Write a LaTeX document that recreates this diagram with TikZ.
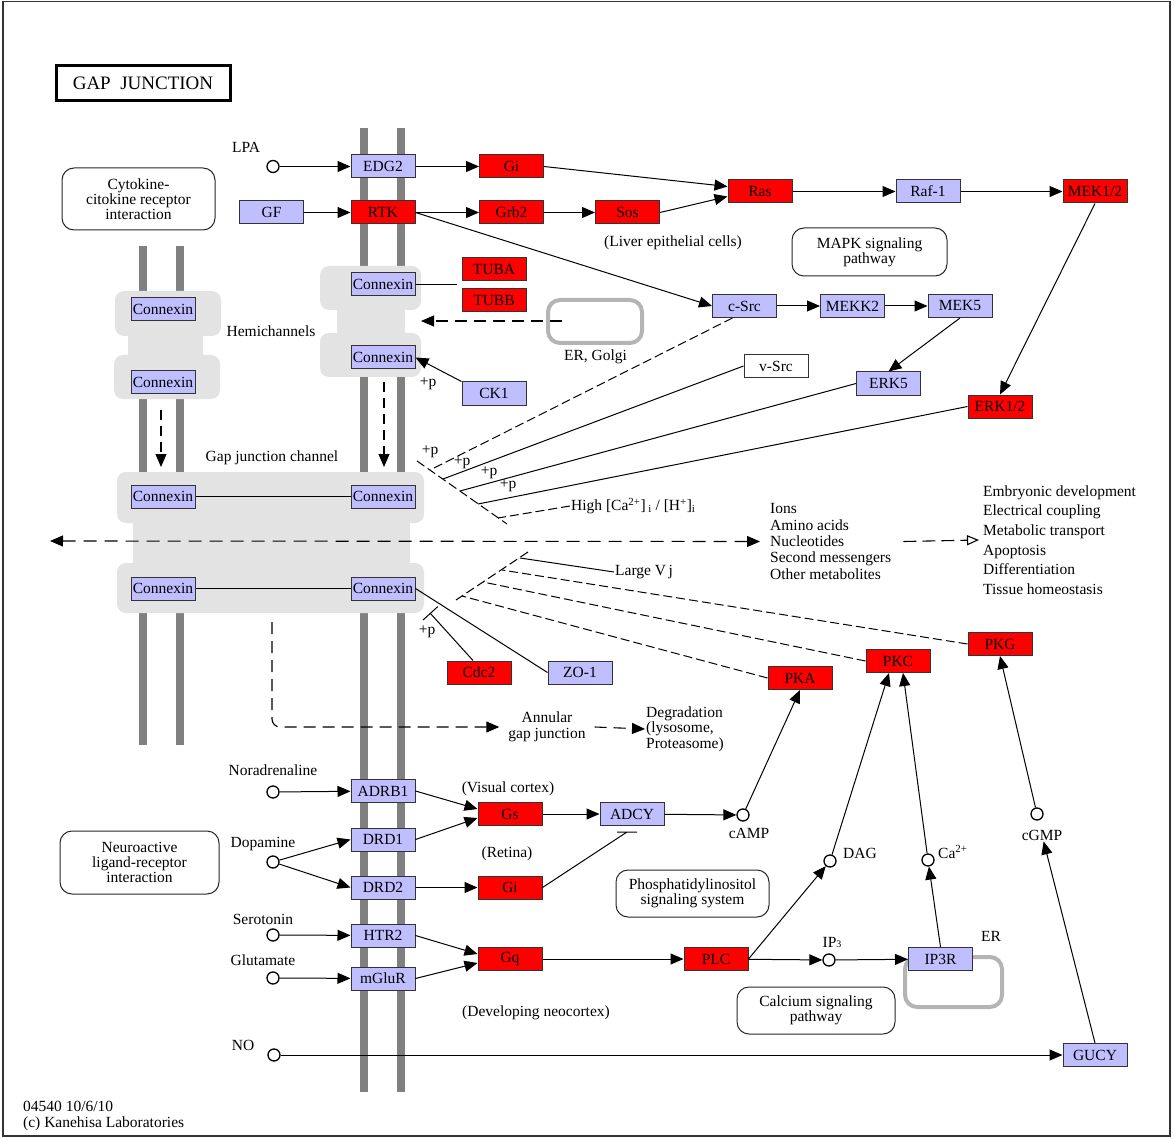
\documentclass[tikz,border=0pt]{standalone}
\usepackage{fontspec}
\setmainfont{Liberation Serif}
\usepackage{xcolor}
\usepackage{tikz}
\usetikzlibrary{arrows.meta, positioning, calc}

\definecolor{geneblue}{HTML}{BFBFFF}
\definecolor{genered}{HTML}{FF0000}
\definecolor{blobgray}{HTML}{E3E3E3}
\definecolor{membgray}{HTML}{808080}
\definecolor{orggray}{HTML}{B4B4B4}

\begin{document}
\begin{tikzpicture}[
    x=1pt, y=-1pt,
    % Global styles
    font=\fontsize{15.5}{15.5}\selectfont,
    >={Triangle[length=13pt, width=11pt]},
    % Box styles
    genebox/.style={
      rectangle, draw=black!80, fill=#1, line width=1pt,
      minimum width=64pt, minimum height=23pt, inner sep=0pt
    },
    genebox/.default=geneblue,
    mapbox/.style={
      rectangle, rounded corners=12pt, draw=black!85, line width=1pt,
      align=center, inner sep=0pt, font=\fontsize{15.5}{15}\selectfont
    },
    titlebox/.style={
      rectangle, draw=black, line width=3pt, minimum width=174pt,
      minimum height=35pt, font=\fontsize{19}{19}\selectfont
    },
    cpd/.style={circle, draw=black, fill=white, line width=1.3pt, minimum size=12pt, inner sep=0pt},
    txt/.style={inner sep=1pt},
    blob/.style={fill=blobgray, rounded corners=9pt},
    membrane/.style={line width=8pt, color=membgray},
    organelle/.style={draw=orggray, line width=4pt, rounded corners=12pt},
    conn/.style={line width=1pt},
    arr/.style={->, line width=1pt},
    dline/.style={line width=1pt, dash pattern=on 9pt off 4pt},
    darr/.style={->, line width=1.1pt, dash pattern=on 12pt off 7pt},
  ]

  \useasboundingbox (0,0) rectangle (1175,1139);
  \draw[line width=1.5pt, black!80] (3,1.5) rectangle (1170,1136);

  % ====================================================================
  % MEMBRANES AND CHANNELS
  % ====================================================================
  \foreach \mx in {364,401} \draw[membrane] (\mx,128) -- (\mx,1092);
  \foreach \mx in {143,180} \draw[membrane] (\mx,246) -- (\mx,745);

  % hemichannels
  \fill[blob] (115,291) rectangle (221,336);
  \fill[blobgray] (128,330) rectangle (203,361);
  \fill[blob] (114,355) rectangle (220,399);
  \fill[blob] (320,266) rectangle (421,310);
  \fill[blobgray] (337,304) rectangle (405,339);
  \fill[blob] (320,333) rectangle (421,377);

  % gap junction channel
  \fill[blob] (117,472) rectangle (424,523);
  \fill[blobgray] (133,515) rectangle (410,571);
  \fill[blob] (117,563) rectangle (424,613);

  % organelles
  \draw[organelle] (548,300) rectangle (642,343);
  \draw[organelle] (905,957) rectangle (1002,1007);

  % ====================================================================
  % TITLE AND MAP LINKS
  % ====================================================================
  \node[titlebox] (title) at (143,83) {GAP\ \ JUNCTION};

  \node[mapbox, minimum width=153pt, minimum height=62pt] (cytokine) at (138.5,199)
    {Cytokine-\\citokine receptor\\interaction};
  \node[mapbox, minimum width=155pt, minimum height=48pt] (mapk) at (869.5,252)
    {MAPK signaling\\pathway};
  \node[mapbox, minimum width=159pt, minimum height=63pt] (neuro) at (139.5,862.5)
    {Neuroactive\\ligand-receptor\\interaction};
  \node[mapbox, minimum width=153pt, minimum height=47pt] (phosphat) at (692.5,893.5)
    {Phosphatidylinositol\\signaling system};
  \node[mapbox, minimum width=158pt, minimum height=47pt] (calcium) at (816,1010.5)
    {Calcium signaling\\pathway};

  % ====================================================================
  % CONNEXINS
  % ====================================================================
  \node[genebox] (cxL1) at (163,309) {Connexin};
  \node[genebox] (cxL2) at (163,382) {Connexin};
  \node[genebox] (cxR1) at (383,284.5) {Connexin};
  \node[genebox] (cxR2) at (383,357.5) {Connexin};
  \node[genebox] (gjL1) at (163,496.5) {Connexin};
  \node[genebox] (gjR1) at (383,496.5) {Connexin};
  \node[genebox] (gjL2) at (163,588.5) {Connexin};
  \node[genebox] (gjR2) at (383,588.5) {Connexin};

  \node[txt] (hemi) at (271,331) {Hemichannels};
  \node[txt] (gjc) at (272,458) {Gap junction channel};

  % ====================================================================
  % UPPER SIGNALLING
  % ====================================================================
  \node[txt] (lLPA) at (246,147) {LPA};
  \node[cpd] (cLPA) at (273,166.5) {};
  \node[genebox] (EDG2) at (383,166.5) {EDG2};
  \node[genebox] (GF) at (271.5,212.5) {GF};
  \node[genebox=genered] (RTK) at (383,212.5) {RTK};
  \node[genebox=genered] (Gi1) at (511.5,166.5) {Gi};
  \node[genebox=genered] (Grb2) at (511.5,212.5) {Grb2};
  \node[genebox=genered] (Sos) at (627.5,212.5) {Sos};
  \node[genebox=genered] (Ras) at (760,191.5) {Ras};
  \node[genebox] (Raf1) at (928,191.5) {Raf-1};
  \node[genebox=genered] (MEK12) at (1095,191.5) {MEK1/2};
  \node[txt] (liver) at (673,243) {(Liver epithelial cells)};

  \node[genebox=genered] (TUBA) at (494,269) {TUBA};
  \node[genebox=genered, below=7.5pt of TUBA] (TUBB) {TUBB};
  \node[txt] (ergolgi) at (595.5,357) {ER, Golgi};

  \node[genebox] (cSrc) at (744.5,306) {c-Src};
  \node[genebox] (MEKK2) at (852.5,306) {MEKK2};
  \node[genebox] (MEK5) at (960,306) {MEK5};
  \node[genebox] (ERK5) at (888.5,383.5) {ERK5};
  \node[genebox=genered] (ERK12) at (1000,406.5) {ERK1/2};
  \node[genebox] (CK1) at (494,393.5) {CK1};
  \node[genebox=white] (vSrc) at (776,366) {v-Src};
  \node[txt] (pCK1) at (428,384) {+p};

  % free ends
  \coordinate (tubend) at (457,284.5);
  \coordinate (golgiout) at (562,321);
  \coordinate (hemiR) at (421,321);

  % converging regulators (upper)
  \coordinate (pubar1) at (417,461);
  \coordinate (pubar2) at (507,524);
  \coordinate (pu1) at (430,470);
  \coordinate (pu2) at (443,479);
  \coordinate (pu3) at (460,491);
  \coordinate (pu4) at (478,504);
  \coordinate (pu5) at (498,518);
  \node[txt] (p1) at (430,452) {+p};
  \node[txt] (p2) at (462,463) {+p};
  \node[txt] (p3) at (489,473) {+p};
  \node[txt] (p4) at (508,486) {+p};
  \node[txt, anchor=west] (highca) at (570,506)
    {High [Ca\textsuperscript{2+}]\,\textsubscript{i} / [H\textsuperscript{+}]\textsubscript{i}};

  % ====================================================================
  % TRANSFER THROUGH CHANNEL
  % ====================================================================
  \coordinate (gjout) at (50,541);
  \coordinate (dnLs) at (161,410);
  \coordinate (dnLe) at (161,467);
  \coordinate (dnRs) at (384,382);
  \coordinate (dnRe) at (384,467);
  \node[txt, anchor=west, align=left, font=\fontsize{15.5}{16.3}\selectfont] (mols) at (769,541.5)
    {Ions\\Amino acids\\Nucleotides\\Second messengers\\Other metabolites};
  \node[txt, anchor=west, align=left, font=\fontsize{15.5}{19.6}\selectfont] (effects) at (982,540)
    {Embryonic development\\Electrical coupling\\Metabolic transport\\Apoptosis\\Differentiation\\Tissue homeostasis};

  % ====================================================================
  % LOWER REGULATORS
  % ====================================================================
  \coordinate (plbar1) at (528,552);
  \coordinate (plbar2) at (456,600);
  \coordinate (pl1) at (520,558);
  \coordinate (pl2) at (502,570);
  \coordinate (pl3) at (483,582);
  \coordinate (pl4) at (462,596);
  \node[txt, anchor=west] (largevj) at (614,572) {Large V\,j};

  \node[genebox=genered] (Cdc2) at (479,672.5) {Cdc2};
  \node[genebox] (ZO1) at (580,672.5) {ZO-1};
  \node[txt] (pCdc2) at (427,632) {+p};
  \coordinate (cdc2bar) at (430,613);

  \node[genebox=genered] (PKA) at (800,678) {PKA};
  \node[genebox=genered] (PKC) at (898,661) {PKC};
  \node[genebox=genered] (PKG) at (1000,644) {PKG};

  \coordinate (annstart) at (272,622);
  \node[txt, inner xsep=9pt, align=center] (annular) at (547,727) {Annular\\gap junction};
  \node[txt, anchor=west, align=left] (degr) at (645,729) {Degradation\\(lysosome,\\Proteasome)};

  % ====================================================================
  % RECEPTORS
  % ====================================================================
  \node[txt] (lNor) at (273,770) {Noradrenaline};
  \node[cpd] (cNor) at (273,792) {};
  \node[txt] (lDop) at (263,844) {Dopamine};
  \node[cpd] (cDop) at (273,862) {};
  \node[txt] (lSer) at (263,919) {Serotonin};
  \node[cpd] (cSer) at (273,935) {};
  \node[txt] (lGlu) at (263,960) {Glutamate};
  \node[cpd] (cGlu) at (273,978) {};
  \node[txt] (lNO) at (243,1045) {NO};
  \node[cpd] (cNO) at (274,1055) {};

  \node[genebox] (ADRB1) at (383,791) {ADRB1};
  \node[genebox] (DRD1) at (383,839.5) {DRD1};
  \node[genebox] (DRD2) at (383,887.5) {DRD2};
  \node[genebox] (HTR2) at (383,935.5) {HTR2};
  \node[genebox] (mGluR) at (383,978.5) {mGluR};

  \node[genebox=genered] (Gs) at (510,814) {Gs};
  \node[genebox] (ADCY) at (632,814) {ADCY};
  \node[genebox=genered] (Gi2) at (510,887.5) {Gi};
  \node[genebox=genered] (Gq) at (510,959) {Gq};
  \node[genebox=genered] (PLC) at (716,959) {PLC};
  \node[genebox] (IP3R) at (940.5,959) {IP3R};
  \node[genebox] (GUCY) at (1095,1055) {GUCY};
  \coordinate (adcyinh) at (627,832);

  \node[txt] (visual) at (508,789) {(Visual cortex)};
  \node[txt] (retina) at (507,854) {(Retina)};
  \node[txt] (neocortex) at (536,1013) {(Developing neocortex)};

  \node[cpd] (cAMP) at (743,815) {};
  \node[txt] (lcAMP) at (749,833) {cAMP};
  \node[cpd] (cDAG) at (830,861) {};
  \node[txt, anchor=west] (lDAG) at (842,853) {DAG};
  \node[cpd] (cCa) at (928,860) {};
  \node[txt, anchor=west] (lCa) at (937,852) {Ca\textsuperscript{2+}};
  \node[cpd] (cGMP) at (1037,814) {};
  \node[txt] (lcGMP) at (1042,835) {cGMP};
  \node[cpd] (cIP3) at (829,960) {};
  \node[txt] (lIP3) at (832,942) {IP{\fontsize{10}{10}\selectfont 3}};
  \node[txt] (lER) at (991,936) {ER};

  \node[txt, anchor=west, align=left, font=\fontsize{15.5}{16}\selectfont] (credit) at (22,1116)
    {04540 10/6/10\\(c) Kanehisa Laboratories};

  % ------- Arrows -------
  \draw[arr] (cLPA) -- (EDG2);
  \draw[arr] (GF) -- (RTK);
  \draw[arr] (EDG2) -- (Gi1);
  \draw[arr] (RTK) -- (Grb2);
  \draw[arr] (Grb2) -- (Sos);
  \draw[arr] (Gi1.east) -- ($(Ras.west)+(0,-5)$);
  \draw[arr] (Sos.east) -- ($(Ras.west)+(0,5)$);
  \draw[arr] (Ras) -- (Raf1);
  \draw[arr] (Raf1) -- (MEK12);
  \draw[arr] (MEK12.south) -- (ERK12.north);
  \draw[arr] (RTK.east) -- (cSrc.west);
  \draw[arr] (cSrc) -- (MEKK2);
  \draw[arr] (MEKK2) -- (MEK5);
  \draw[arr] (MEK5.south) -- (ERK5.north);
  \draw[arr] (CK1.north west) -- (cxR2.east);
  \draw[conn] (cxR1.east) -- (tubend);
  \draw[darr] (golgiout) -- (hemiR);

  % channel
  \draw[conn] (gjL1) -- (gjR1);
  \draw[conn] (gjL2) -- (gjR2);
  \draw[darr, dash pattern=on 10pt off 6pt] (dnLs) -- (dnLe);
  \draw[darr, dash pattern=on 10pt off 6pt] (dnRs) -- (dnRe);
  \draw[darr, <->, dash pattern=on 13pt off 8pt] (gjout) -- ([xshift=-9pt]mols.west);
  \draw[darr, dash pattern=on 13pt off 6pt, -{Triangle[open, length=12pt, width=10pt]}]
    ([xshift=11pt]mols.east) -- ([xshift=-3pt]effects.west);

  % upper converge
  \draw[dline] (pubar1) -- (pubar2);
  \draw[dline] ($(cSrc.south)+(-12,0)$) -- (pu1);
  \draw[conn] (vSrc.west) -- (pu2);
  \draw[conn] (ERK5.west) -- (pu3);
  \draw[conn] (ERK12.west) -- (pu4);
  \draw[dline] (highca.west) -- (pu5);

  % lower converge
  \draw[dline] (plbar1) -- (plbar2);
  \draw[conn] (largevj.west) -- (pl1);
  \draw[dline] (PKG.west) -- (pl2);
  \draw[dline] (PKC.west) -- (pl3);
  \draw[dline] (PKA.west) -- (pl4);
  \draw[conn, -{Bar[width=20pt]}] ($(Cdc2.north)+(-6,0)$) -- (cdc2bar);
  \draw[conn] (gjR2.east) -- (ZO1.west);

  % internalisation
  \draw[darr, rounded corners=8pt] (annstart) |- (annular.west);
  \draw[darr] (annular.east) -- (degr.west);

  % receptors
  \draw[arr] (cNor) -- (ADRB1);
  \draw[arr] (cDop) -- (DRD1.west);
  \draw[arr] (cDop) -- (DRD2.west);
  \draw[arr] (cSer) -- (HTR2);
  \draw[arr] (cGlu) -- (mGluR);
  \draw[arr] (cNO) -- (GUCY);
  \draw[arr] (ADRB1.east) -- ($(Gs.west)+(0,-5)$);
  \draw[arr] (DRD1.east) -- ($(Gs.west)+(0,4)$);
  \draw[arr] (DRD2) -- (Gi2);
  \draw[arr] (HTR2.east) -- ($(Gq.west)+(0,-5)$);
  \draw[arr] (mGluR.east) -- ($(Gq.west)+(0,4)$);

  % second messengers
  \draw[arr] (Gs) -- (ADCY);
  \draw[arr] (ADCY) -- (cAMP);
  \draw[conn] (Gi2.east) -- (adcyinh) ++(-10,0) -- ++(20,0);
  \draw[arr] (Gq) -- (PLC);
  \draw[arr] (PLC) -- (cIP3);
  \draw[arr] (cIP3) -- (IP3R);
  \draw[arr] (PLC.east) -- (cDAG);
  \draw[arr] (IP3R.north) -- (cCa);
  \draw[arr] (cDAG) -- ($(PKC.south)+(-9,0)$);
  \draw[arr] (cCa) -- ($(PKC.south)+(5,0)$);
  \draw[arr] (cAMP) -- (PKA.south);
  \draw[arr] (cGMP) -- (PKG.south);
  \draw[arr] (GUCY.north) -- (lcGMP);

\end{tikzpicture}
\end{document}
